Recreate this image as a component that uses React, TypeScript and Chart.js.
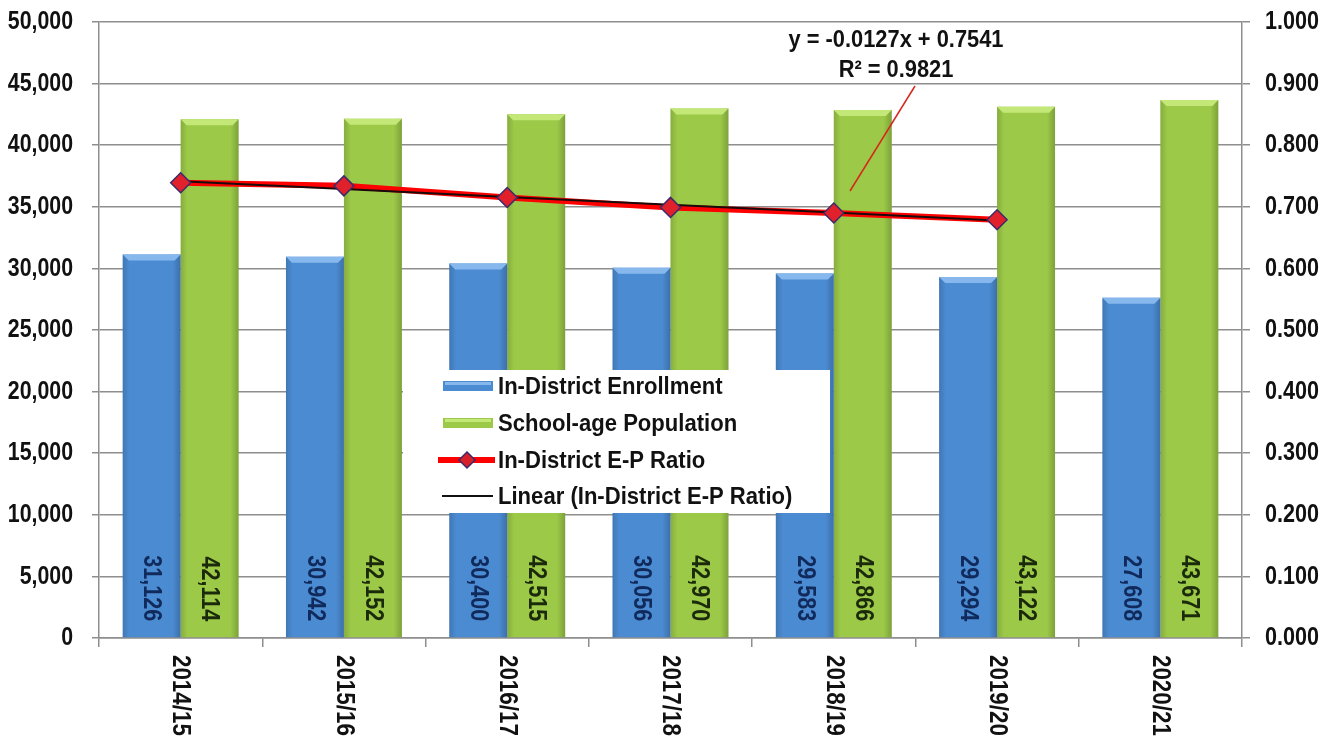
import { useEffect, useRef } from 'react';
import { Chart, registerables } from 'chart.js';

Chart.register(...registerables);

// School years on the category axis
const seasons = ['2014/15', '2015/16', '2016/17', '2017/18', '2018/19', '2019/20', '2020/21'];

// Students enrolled in district schools
const inDistrictEnrollment = [31126, 30942, 30400, 30056, 29583, 29294, 27608];

// School-age residents of the district
const schoolAgePopulation = [42114, 42152, 42515, 42970, 42866, 43122, 43671];

// Enrollment-to-population ratio (no ratio yet for the projected year)
const epRatio = [0.739, 0.734, 0.715, 0.699, 0.69, 0.679, null];

// Linear trend of the ratio, y = -0.0127x + 0.7541
const linearTrend = [0.7414, 0.7287, 0.716, 0.7033, 0.6906, 0.6779, null];
const trendEquation = ['y = -0.0127x + 0.7541', 'R\u00b2 = 0.9821'];

const legendLabels = [
  'In-District Enrollment',
  'School-age Population',
  'In-District E-P Ratio',
  'Linear (In-District E-P Ratio)',
];

const FONT = '"Liberation Sans", Arial, sans-serif';
const BLUE = '#4b8bd2';
const GREEN = '#9cc948';
const GRID = '#8e8e8e';

const fmt = (v: number) => v.toLocaleString('en-US');

const bevelTop: Record<number, string> = { 0: '#86b8ee', 1: '#c3e878' };

// Bold text squeezed horizontally to a condensed face
function condensed(
  ctx: CanvasRenderingContext2D,
  text: string,
  x: number,
  y: number,
  size: number,
  sx: number,
  align: CanvasTextAlign,
  angle = 0,
) {
  ctx.save();
  ctx.translate(x, y);
  if (angle) ctx.rotate(angle);
  ctx.scale(sx, 1);
  ctx.font = `bold ${size}px ${FONT}`;
  ctx.textAlign = align;
  ctx.textBaseline = 'middle';
  ctx.fillText(text, 0, 0);
  ctx.restore();
}

const decorations = {
  id: 'decorations',
  afterDatasetDraw(chart: any, args: any) {
    const meta = args.meta;
    if (meta.type !== 'bar') return;
    const ctx = chart.ctx;
    ctx.save();
    meta.data.forEach((bar: any) => {
      const { x, y, base, width } = bar.getProps(['x', 'y', 'base', 'width'], true);
      const l = x - width / 2;
      const r = x + width / 2;
      const b = 6;
      const g = ctx.createLinearGradient(l, 0, r, 0);
      g.addColorStop(0, 'rgba(0,0,0,0.14)');
      g.addColorStop(0.12, 'rgba(0,0,0,0)');
      g.addColorStop(0.86, 'rgba(0,0,0,0)');
      g.addColorStop(1, 'rgba(0,0,0,0.2)');
      ctx.fillStyle = g;
      ctx.fillRect(l, y, width, base - y);
      ctx.beginPath();
      ctx.moveTo(l, y);
      ctx.lineTo(r, y);
      ctx.lineTo(r - b, y + b);
      ctx.lineTo(l + b, y + b);
      ctx.closePath();
      ctx.fillStyle = bevelTop[args.index];
      ctx.fill();
    });
    ctx.restore();
  },
  afterDraw(chart: any) {
    const ctx = chart.ctx;
    const area = chart.chartArea;
    ctx.save();

    // tick labels of both value axes
    const yl = chart.scales.y;
    ctx.fillStyle = '#111';
    yl.ticks.forEach((t: any, i: number) => {
      condensed(ctx, fmt(t.value), area.left - 26, yl.getPixelForTick(i), 26, 0.82, 'right');
    });
    const yr = chart.scales.y1;
    yr.ticks.forEach((t: any, i: number) => {
      condensed(ctx, Number(t.value).toFixed(3), area.right + 23, yr.getPixelForTick(i), 26, 0.83, 'left');
    });

    // value labels inside the bars, reading downward
    [0, 1].forEach((di) => {
      const meta = chart.getDatasetMeta(di);
      const values = chart.data.datasets[di].data as number[];
      ctx.fillStyle = di === 0 ? '#112a5c' : '#1b2a0a';
      meta.data.forEach((bar: any, i: number) => {
        const { x, base } = bar.getProps(['x', 'base'], true);
        condensed(ctx, fmt(values[i]), x, base - 16, 26, 0.83, 'right', Math.PI / 2);
      });
    });

    // category labels under the axis, reading downward
    const xScale = chart.scales.x;
    ctx.fillStyle = '#111';
    seasons.forEach((s, i) => {
      condensed(ctx, s, xScale.getPixelForValue(i), area.bottom + 17, 26, 0.86, 'left', Math.PI / 2);
    });

    // trendline equation with its leader line
    ctx.strokeStyle = '#d5281c';
    ctx.lineWidth = 1.5;
    ctx.beginPath();
    ctx.moveTo(915, 86);
    ctx.lineTo(850, 191);
    ctx.stroke();
    ctx.fillStyle = '#111';
    condensed(ctx, trendEquation[0], 896, 40, 24, 0.91, 'center');
    condensed(ctx, trendEquation[1], 896, 70, 24, 0.91, 'center');

    // legend
    ctx.fillStyle = '#ffffff';
    ctx.fillRect(403, 370, 427, 143);
    const rows = [386, 423, 460, 496];
    legendLabels.forEach((label, i) => {
      const cy = rows[i];
      if (i < 2) {
        ctx.fillStyle = i === 0 ? BLUE : GREEN;
        ctx.fillRect(443, cy - 5, 50, 10);
        ctx.fillStyle = bevelTop[i];
        ctx.fillRect(445, cy - 4, 46, 3);
      } else if (i === 2) {
        ctx.strokeStyle = '#ff0000';
        ctx.lineWidth = 6;
        ctx.beginPath();
        ctx.moveTo(438, cy);
        ctx.lineTo(495, cy);
        ctx.stroke();
        ctx.beginPath();
        ctx.moveTo(467, cy - 8);
        ctx.lineTo(475, cy);
        ctx.lineTo(467, cy + 8);
        ctx.lineTo(459, cy);
        ctx.closePath();
        ctx.fillStyle = '#d8202a';
        ctx.fill();
        ctx.strokeStyle = '#3a2a6a';
        ctx.lineWidth = 1.5;
        ctx.stroke();
      } else {
        ctx.strokeStyle = '#111';
        ctx.lineWidth = 2;
        ctx.beginPath();
        ctx.moveTo(442, cy);
        ctx.lineTo(493, cy);
        ctx.stroke();
      }
      ctx.fillStyle = '#111';
      condensed(ctx, label, 498, cy + 1, 24, 0.92, 'left');
    });

    ctx.restore();
  },
};

export default function App() {
  const canvasRef = useRef<HTMLCanvasElement | null>(null);

  useEffect(() => {
    const canvas = canvasRef.current;
    if (!canvas) return;
    const chart = new Chart(canvas, {
      type: 'bar',
      data: {
        labels: seasons,
        datasets: [
          {
            type: 'bar',
            label: legendLabels[0],
            data: inDistrictEnrollment,
            backgroundColor: BLUE,
            borderWidth: 0,
            yAxisID: 'y',
            order: 10,
            categoryPercentage: 0.71,
            barPercentage: 1,
          },
          {
            type: 'bar',
            label: legendLabels[1],
            data: schoolAgePopulation,
            backgroundColor: GREEN,
            borderWidth: 0,
            yAxisID: 'y',
            order: 10,
            categoryPercentage: 0.71,
            barPercentage: 1,
          },
          {
            type: 'line',
            label: legendLabels[2],
            data: epRatio,
            borderColor: '#ff0000',
            borderWidth: 6,
            pointRadius: 0,
            yAxisID: 'y1',
            order: 3,
          },
          {
            type: 'line',
            label: legendLabels[3],
            data: linearTrend,
            borderColor: '#1a0a0a',
            borderWidth: 2,
            pointRadius: 0,
            yAxisID: 'y1',
            order: 2,
          },
          {
            type: 'line',
            label: 'markers',
            data: epRatio,
            showLine: false,
            pointStyle: 'rectRot',
            pointRadius: 10,
            pointBackgroundColor: '#e0202a',
            pointBorderColor: '#3b2b6b',
            pointBorderWidth: 1.5,
            yAxisID: 'y1',
            order: 1,
          },
        ],
      },
      options: {
        responsive: false,
        animation: false,
        layout: { padding: { top: 22, left: 0, right: 0, bottom: 0 } },
        plugins: {
          legend: { display: false },
          tooltip: { enabled: false },
        },
        scales: {
          x: {
            ticks: { display: false },
            grid: {
              offset: true,
              drawOnChartArea: false,
              drawTicks: true,
              tickLength: 9,
              color: GRID,
              lineWidth: 1.5,
            },
            border: { color: GRID, width: 1.5 },
            afterFit: (s: any) => {
              s.height = 100;
            },
          },
          y: {
            position: 'left',
            min: 0,
            max: 50000,
            ticks: { stepSize: 5000, display: false },
            grid: { color: GRID, lineWidth: 1.5, tickLength: 7 },
            border: { color: GRID, width: 1.5 },
            afterFit: (s: any) => {
              s.width = 99;
            },
          },
          y1: {
            position: 'right',
            min: 0,
            max: 1,
            ticks: { stepSize: 0.1, display: false },
            grid: { drawOnChartArea: false, color: GRID, lineWidth: 1.5, tickLength: 8 },
            border: { color: GRID, width: 1.5 },
            afterFit: (s: any) => {
              s.width = 92;
            },
          },
        },
      },
      plugins: [decorations],
    } as any);
    return () => chart.destroy();
  }, []);

  return (
    <div style={{ position: 'fixed', left: 0, top: 0, width: 1334, height: 738, background: '#fff' }}>
      <canvas ref={canvasRef} width={1334} height={738} style={{ display: 'block' }} />
    </div>
  );
}
